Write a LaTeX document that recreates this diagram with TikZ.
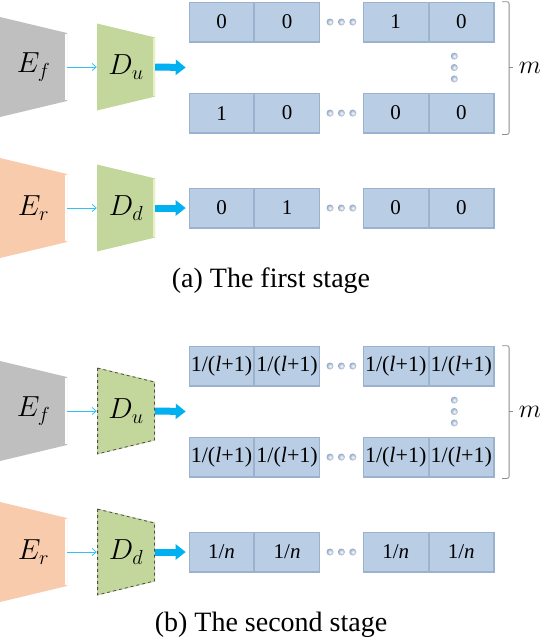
\RequirePackage{fix-cm}
\documentclass[tikz,border=0pt]{standalone}
\usepackage{fontspec}
\setmainfont{Liberation Serif}
\usepackage{tikz}
\usetikzlibrary{positioning,calc,arrows.meta}

\definecolor{encgray}{HTML}{BFBFBF}
\definecolor{encpeach}{HTML}{F8CBAD}
\definecolor{decgreen}{HTML}{C3D69B}
\definecolor{decshine}{HTML}{E8F0C4}
\definecolor{cellblue}{HTML}{B9CDE5}
\definecolor{celledge}{HTML}{9AB2CE}
\definecolor{beadedge}{HTML}{8FA6C4}
\definecolor{flowblue}{HTML}{00B0F0}

\tikzset{
  trap/.style n args={3}{path picture={
      \fill[#1] (path picture bounding box.north west)
        -- ($(path picture bounding box.north east)!.16!(path picture bounding box.south east)$)
        -- ($(path picture bounding box.north east)!.84!(path picture bounding box.south east)$)
        -- (path picture bounding box.south west) -- cycle;
      \draw[#2, line width=2.5pt]
        ($(path picture bounding box.north east)!.16!(path picture bounding box.south east)+(-1.25pt,-.6pt)$)
        -- ($(path picture bounding box.north east)!.84!(path picture bounding box.south east)+(-1.25pt,.6pt)$);
      \draw[#3] ($(path picture bounding box.north west)+(.6pt,-.6pt)$)
        -- ($(path picture bounding box.north east)!.16!(path picture bounding box.south east)+(-.6pt,-.6pt)$)
        -- ($(path picture bounding box.north east)!.84!(path picture bounding box.south east)+(-.6pt,.6pt)$)
        -- ($(path picture bounding box.south west)+(.6pt,.6pt)$) -- cycle;
      }},
  block/.style={inner sep=0pt, font=\fontsize{29}{30}\selectfont},
  enc/.style={block, minimum width=67pt, minimum height=100pt, trap={#1}{white}{draw=none}},
  dec/.style={block, minimum width=58pt, minimum height=87pt, trap={decgreen}{decshine}{draw=none}},
  frozen/.style={block, minimum width=58pt, minimum height=87pt,
    trap={decgreen}{draw=none}{draw=black!70, dashed, line width=.8pt}},
  cell/.style={draw=celledge, line width=.6pt, fill=cellblue, inner sep=0pt,
    minimum width=65pt, minimum height=40pt, font=\fontsize{21}{23}\selectfont,
    path picture={
      \draw[white, opacity=.45, line width=1.6pt]
        (path picture bounding box.south west) -- (path picture bounding box.north west)
        -- (path picture bounding box.north east);
      \draw[celledge, line width=1.4pt]
        (path picture bounding box.north east) -- (path picture bounding box.south east)
        -- (path picture bounding box.south west);
      }},
  wide/.style={font=\fontsize{22}{24}\selectfont},
  bead/.style={circle, inner sep=0pt, minimum size=7pt, shade, inner color=white, outer color=beadedge},
  thinarrow/.style={draw=flowblue!80, line width=.8pt, -{Straight Barb[length=4pt,width=7pt]}},
  fatarrow/.style={draw=flowblue, line width=7pt, -{Triangle[length=10pt,width=15pt]}, shorten >=3pt},
  bracket/.style={draw=black!45, line width=.8pt, rounded corners=2pt},
  caption/.style={font=\fontsize{28}{30}\selectfont, anchor=base, inner sep=0pt},
  rowcount/.style={font=\fontsize{26}{28}\selectfont},
}

\begin{document}
\begin{tikzpicture}[x=1pt,y=1pt]
	\useasboundingbox (0,0) rectangle (540,-638);

	% first stage
	\node[enc=encgray] (ef) at (33.5,-67) {$E_f$};
	\node[dec] (du) at (126,-67) {$D_u$};
	\node[enc=encpeach] (er) at (33.5,-208) {$E_r$};
	\node[dec] (dd) at (126,-208) {$D_d$};

	\node[cell] (u11) at (221.5,-22) {0};
	\node[cell] (u12) [right=0pt of u11] {0};
	\node[cell] (u13) [right=43pt of u12] {1};
	\node[cell] (u14) [right=0pt of u13] {0};
	\node[cell] (u21) [below=50.5pt of u11] {1};
	\node[cell] (u22) [right=0pt of u21] {0};
	\node[cell] (u23) [right=43pt of u22] {0};
	\node[cell] (u24) [right=0pt of u23] {0};
	\node[cell] (d11) at (221.5,-208) {0};
	\node[cell] (d12) [right=0pt of d11] {1};
	\node[cell] (d13) [right=43pt of d12] {0};
	\node[cell] (d14) [right=0pt of d13] {0};

	\node[bead] (u1b) at ($(u12.east)!.5!(u13.west)$) {};
	\node[bead] (u1a) [left=4pt of u1b] {};
	\node[bead] (u1c) [right=4pt of u1b] {};
	\node[bead] (u2b) at ($(u22.east)!.5!(u23.west)$) {};
	\node[bead] (u2a) [left=4pt of u2b] {};
	\node[bead] (u2c) [right=4pt of u2b] {};
	\node[bead] (d1b) at ($(d12.east)!.5!(d13.west)$) {};
	\node[bead] (d1a) [left=4pt of d1b] {};
	\node[bead] (d1c) [right=4pt of d1b] {};
	\node[bead] (uvb) at ($(u14.south)!.5!(u24.north)+(-7,0)$) {};
	\node[bead] (uva) [above=4pt of uvb] {};
	\node[bead] (uvc) [below=4pt of uvb] {};

	\coordinate (uin) at ($(u11.west)!.5!(u21.west)$);
	\draw[thinarrow] (ef) -- (du);
	\draw[thinarrow] (er) -- (dd);
	\draw[fatarrow] (du.east) -- (uin);
	\draw[fatarrow] (dd) -- (d11);

	\draw[bracket] ($(u14.north east)+(8,0)$) -- ++(7,0) |- ($(u24.south east)+(8,-1)$);
	\draw[bracket] ($(u14.north east)!.5!(u24.south east)+(15,0)$) -- ++(4,0);
	\node[rowcount] (mu) at ($(u14.north east)!.5!(u24.south east)+(36,0)$) {$m$};

	\node[caption] (capa) at (271,-287) {(a) The first stage};

	% second stage
	\node[enc=encgray] (ef2) at (33.5,-411) {$E_f$};
	\node[frozen] (du2) at (126,-411) {$D_u$};
	\node[enc=encpeach] (er2) at (33.5,-552) {$E_r$};
	\node[frozen] (dd2) at (126,-552) {$D_d$};

	\node[cell,wide] (v11) at (221.5,-366) {1/(\textit{l}+1)};
	\node[cell,wide] (v12) [right=0pt of v11] {1/(\textit{l}+1)};
	\node[cell,wide] (v13) [right=43pt of v12] {1/(\textit{l}+1)};
	\node[cell,wide] (v14) [right=0pt of v13] {1/(\textit{l}+1)};
	\node[cell,wide] (v21) [below=50.5pt of v11] {1/(\textit{l}+1)};
	\node[cell,wide] (v22) [right=0pt of v21] {1/(\textit{l}+1)};
	\node[cell,wide] (v23) [right=43pt of v22] {1/(\textit{l}+1)};
	\node[cell,wide] (v24) [right=0pt of v23] {1/(\textit{l}+1)};
	\node[cell] (e11) at (221.5,-552) {1/\textit{n}};
	\node[cell] (e12) [right=0pt of e11] {1/\textit{n}};
	\node[cell] (e13) [right=43pt of e12] {1/\textit{n}};
	\node[cell] (e14) [right=0pt of e13] {1/\textit{n}};

	\node[bead] (v1b) at ($(v12.east)!.5!(v13.west)$) {};
	\node[bead] (v1a) [left=4pt of v1b] {};
	\node[bead] (v1c) [right=4pt of v1b] {};
	\node[bead] (v2b) at ($(v22.east)!.5!(v23.west)$) {};
	\node[bead] (v2a) [left=4pt of v2b] {};
	\node[bead] (v2c) [right=4pt of v2b] {};
	\node[bead] (e1b) at ($(e12.east)!.5!(e13.west)$) {};
	\node[bead] (e1a) [left=4pt of e1b] {};
	\node[bead] (e1c) [right=4pt of e1b] {};
	\node[bead] (vvb) at ($(v14.south)!.5!(v24.north)+(-7,0)$) {};
	\node[bead] (vva) [above=4pt of vvb] {};
	\node[bead] (vvc) [below=4pt of vvb] {};

	\coordinate (vin) at ($(v11.west)!.5!(v21.west)$);
	\draw[thinarrow] (ef2) -- (du2);
	\draw[thinarrow] (er2) -- (dd2);
	\draw[fatarrow] (du2.east) -- (vin);
	\draw[fatarrow] (dd2) -- (e11);

	\draw[bracket] ($(v14.north east)+(8,0)$) -- ++(7,0) |- ($(v24.south east)+(8,-1)$);
	\draw[bracket] ($(v14.north east)!.5!(v24.south east)+(15,0)$) -- ++(4,0);
	\node[rowcount] (mv) at ($(v14.north east)!.5!(v24.south east)+(36,0)$) {$m$};

	\node[caption] (capb) at (271,-631) {(b) The second stage};
\end{tikzpicture}
\end{document}
